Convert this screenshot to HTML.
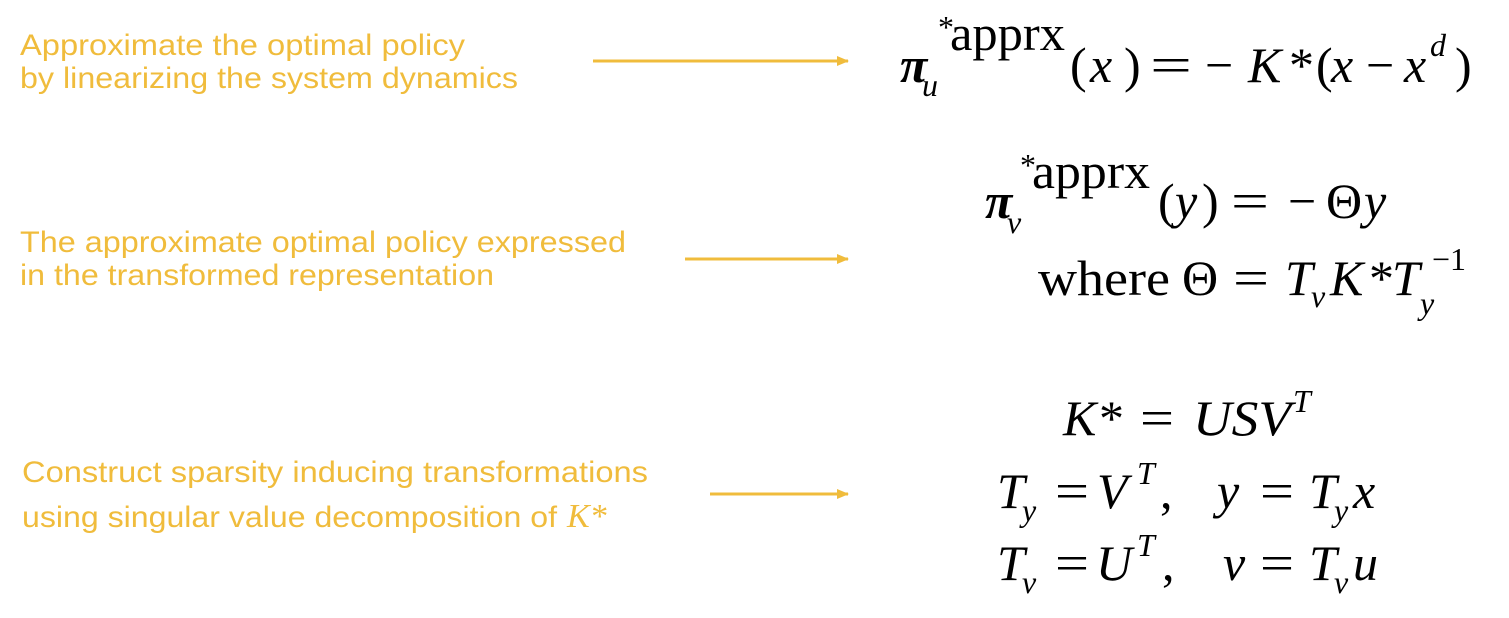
<!DOCTYPE html>
<html><head><style>html,body{margin:0;padding:0;background:#fff;}svg{display:block}</style></head>
<body>
<svg width="1509" height="618" viewBox="0 0 1509 618" xmlns="http://www.w3.org/2000/svg">
<defs><marker id="ah" markerWidth="12" markerHeight="10" refX="11" refY="5" orient="auto" markerUnits="userSpaceOnUse"><path d="M0,0 L12,5 L0,10 z" fill="#F0BC3C"/></marker></defs>
<g font-family="Liberation Sans, sans-serif" font-size="30" fill="#F0BC3C">
<text x="20" y="55" textLength="445" lengthAdjust="spacingAndGlyphs">Approximate the optimal policy</text>
<text x="20" y="88" textLength="498" lengthAdjust="spacingAndGlyphs">by linearizing the system dynamics</text>
<text x="20" y="252" textLength="606" lengthAdjust="spacingAndGlyphs">The approximate optimal policy expressed</text>
<text x="20" y="285" textLength="474" lengthAdjust="spacingAndGlyphs">in the transformed representation</text>
<text x="22" y="482" textLength="626" lengthAdjust="spacingAndGlyphs">Construct sparsity inducing transformations</text>
<text x="22" y="527" textLength="535" lengthAdjust="spacingAndGlyphs">using singular value decomposition of</text>
<text x="567" y="527" font-family="Liberation Serif, serif" font-style="italic" font-size="34">K*</text>
</g>
<g stroke="#F0BC3C" stroke-width="3" marker-end="url(#ah)">
<line x1="593" y1="61" x2="848" y2="61"/>
<line x1="685" y1="259" x2="848" y2="259"/>
<line x1="710" y1="494" x2="848" y2="494"/>
</g>
<g font-family="Liberation Serif, serif" font-size="50" fill="#000">
<text x="900" y="82" font-style="italic" font-weight="bold">π</text>
<text x="922" y="96" font-style="italic" font-size="32">u</text>
<text x="938" y="38" font-size="32">*</text>
<text x="950" y="50" textLength="115" lengthAdjust="spacingAndGlyphs">apprx</text>
<text x="1070" y="82">(</text>
<text x="1090" y="82" font-style="italic">x</text>
<text x="1124" y="82">)</text>
<text x="1150" y="82" textLength="42" lengthAdjust="spacingAndGlyphs">=</text>
<text x="1205" y="82">−</text>
<text x="1248" y="82" font-style="italic">K</text>
<text x="1289" y="82">*</text>
<text x="1316" y="82">(</text>
<text x="1331" y="82" font-style="italic">x</text>
<text x="1366" y="82">−</text>
<text x="1404" y="82" font-style="italic">x</text>
<text x="1430" y="56" font-style="italic" font-size="32">d</text>
<text x="1455" y="82">)</text>

<text x="985" y="218" font-style="italic" font-weight="bold">π</text>
<text x="1007" y="233" font-style="italic" font-size="32">v</text>
<text x="1020" y="176" font-size="32">*</text>
<text x="1032" y="188" textLength="118" lengthAdjust="spacingAndGlyphs">apprx</text>
<text x="1158" y="218">(</text>
<text x="1175" y="218" font-style="italic">y</text>
<text x="1202" y="218">)</text>
<text x="1231" y="218" textLength="38" lengthAdjust="spacingAndGlyphs">=</text>
<text x="1288" y="218">−</text>
<text x="1326" y="218">Θ</text>
<text x="1364" y="218" font-style="italic">y</text>
<text x="1038" y="295" textLength="132" lengthAdjust="spacingAndGlyphs">where</text>
<text x="1182" y="295">Θ</text>
<text x="1233" y="295" textLength="36" lengthAdjust="spacingAndGlyphs">=</text>
<text x="1285" y="295" font-style="italic">T</text>
<text x="1311" y="307" font-style="italic" font-size="32">v</text>
<text x="1330" y="295" font-style="italic">K</text>
<text x="1369" y="295">*</text>
<text x="1392" y="295" font-style="italic">T</text>
<text x="1420" y="314" font-style="italic" font-size="32">y</text>
<text x="1432" y="270" font-size="32">−1</text>

<text x="1063" y="435" font-style="italic">K</text>
<text x="1099" y="435">*</text>
<text x="1140" y="435" textLength="34" lengthAdjust="spacingAndGlyphs">=</text>
<text x="1193" y="435" font-style="italic" textLength="98" lengthAdjust="spacingAndGlyphs">USV</text>
<text x="1293" y="412" font-style="italic" font-size="32">T</text>

<text x="997" y="508" font-style="italic">T</text>
<text x="1022" y="521" font-style="italic" font-size="32">y</text>
<text x="1055" y="508" textLength="34" lengthAdjust="spacingAndGlyphs">=</text>
<text x="1097" y="508" font-style="italic">V</text>
<text x="1137" y="484" font-style="italic" font-size="32">T</text>
<text x="1160" y="508">,</text>
<text x="1217" y="508" font-style="italic">y</text>
<text x="1260" y="508" textLength="34" lengthAdjust="spacingAndGlyphs">=</text>
<text x="1309" y="508" font-style="italic">T</text>
<text x="1334" y="521" font-style="italic" font-size="32">y</text>
<text x="1353" y="508" font-style="italic">x</text>

<text x="997" y="580" font-style="italic">T</text>
<text x="1022" y="593" font-style="italic" font-size="32">v</text>
<text x="1055" y="580" textLength="34" lengthAdjust="spacingAndGlyphs">=</text>
<text x="1096" y="580" font-style="italic">U</text>
<text x="1137" y="556" font-style="italic" font-size="32">T</text>
<text x="1162" y="580">,</text>
<text x="1223" y="580" font-style="italic">v</text>
<text x="1260" y="580" textLength="34" lengthAdjust="spacingAndGlyphs">=</text>
<text x="1309" y="580" font-style="italic">T</text>
<text x="1334" y="593" font-style="italic" font-size="32">v</text>
<text x="1353" y="580" font-style="italic">u</text>
</g>
</svg>
</body></html>
